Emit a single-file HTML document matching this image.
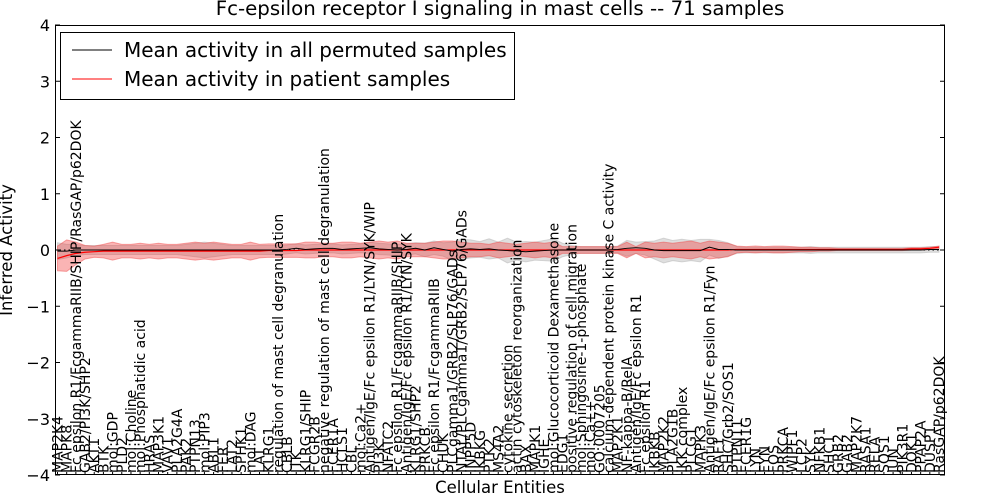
<!DOCTYPE html>
<html><head><meta charset="utf-8">
<style>
body{margin:0;background:#fff;}
svg{display:block;font-family:"DejaVu Sans","Liberation Sans",sans-serif;}
</style></head>
<body>
<svg id="chart" width="1000" height="500" viewBox="0 0 1000 500">
<rect x="0" y="0" width="1000" height="500" fill="#fff"/>
<text x="500" y="15" text-anchor="middle" font-size="19.8">Fc-epsilon receptor I signaling in mast cells -- 71 samples</text>
<g id="plot"></g>
<text x="500" y="493" text-anchor="middle" font-size="16.5">Cellular Entities</text>
<text transform="translate(12,250) rotate(-90)" text-anchor="middle" font-size="16.5">Inferred Activity</text>
<g>
<rect x="60.5" y="32.5" width="454" height="67" fill="#fff" stroke="#000"/>
<line x1="72" y1="50" x2="112" y2="50" stroke="#000"/>
<text x="124" y="57" font-size="20">Mean activity in all permuted samples</text>
<line x1="72" y1="79" x2="112" y2="79" stroke="#f00"/>
<text x="124" y="86" font-size="20">Mean activity in patient samples</text>
</g>
</svg>
<script>
const categories=["MAP2K4","MAPK8","Fc epsilon R1/FcgammaRIIB/SHIP/RasGAP/p62DOK","GAB2/PI3K/SHP2","AKT1","BTK","mol:GDP","PLD2","mol:Choline","mol:Phosphatidic acid","HRAS","MAP3K1","VAV1","PLA2G4A","PAK2","PTPN13","mol:PIP3","ABL1","FER","LAT2","SPHK1","mol:DAG","LAT","KLRG1","regulation of mast cell degranulation","CBLB","ITK","KLRG1/SHIP","FCGR2B","negative regulation of mast cell degranulation","FCER1A","HCLS1","CBL","mol:Ca2+","Antigen/IgE/Fc epsilon R1/LYN/SYK/WIP","PI3K","NFATC2","Fc epsilon R1/FcgammaRIIB/SHIP","Antigen/IgE/Fc epsilon R1/LYN/SYK","KLRG1/SHP2","PRKCB","Fc epsilon R1/FcgammaRIIB","CHUK","PLCgamma1/GRB2/SLP76/GADs","NTAL/PLCgamma1/GRB2/SLP76/GADs","INPP5D","IKBKG","PTK2","MS4A2","cytokine secretion","actin cytoskeleton reorganization","BAX","MAPK1","IGHE","mol:Glucocorticoid Dexamethasone","EDG1","positive regulation of cell migration","mol:Sphingosine-1-phosphate","mol:Ca++","GO:0007205","calcium-dependent protein kinase C activity","MAP2K1","NF-kappa-B/RelA","Antigen/IgE/Fc epsilon R1","Fc epsilon R1","IKBKB","MAP2K2","PLA2G1B","IKK complex","PLCG1","MAPK3","Antigen/IgE/Fc epsilon R1/Fyn","RAF1","SHC/Grb2/SOS1","PTPN11","FCER1G","LYN","FYN","FOS","PRKCA","WIPF1","LCP2","SYK","NFKB1","SHC1","GRB2","GAB2","MAP2K7","RASA1","RELA","SOS1","JUN","PIK3R1","DOK1","PPAP2A","DUSP1","RasGAP/p62DOK"];
const patientMean=[-0.15,-0.1,-0.06,-0.04,-0.03,-0.02,-0.02,-0.02,-0.02,-0.02,-0.02,-0.02,-0.02,-0.02,-0.02,-0.02,-0.02,-0.02,-0.02,-0.02,-0.02,-0.02,-0.02,-0.01,-0.01,-0.01,-0.01,0,0,0,0,0,0,0,0,0,0,0,0,0,0,0,0,0,0,0,0,0,0,0,0,0,0,0,0,0,0,0,0,0,0,0,0,0,0,0,0,0,0,0,0,0,0,0,0.01,0.01,0.01,0.01,0.01,0.01,0.01,0.01,0.01,0.01,0.01,0.01,0.01,0.01,0.01,0.01,0.01,0.01,0.01,0.02,0.02,0.03,0.05];
const patientSpread=[0.22,0.28,0.2,0.12,0.1,0.12,0.16,0.12,0.12,0.14,0.12,0.14,0.12,0.12,0.14,0.16,0.14,0.16,0.14,0.12,0.12,0.16,0.12,0.12,0.12,0.12,0.12,0.14,0.14,0.12,0.12,0.14,0.14,0.12,0.14,0.16,0.14,0.16,0.12,0.12,0.12,0.14,0.16,0.16,0.14,0.12,0.12,0.1,0.14,0.12,0.1,0.12,0.14,0.12,0.14,0.06,0.06,0.06,0.06,0.06,0.06,0.06,0.14,0.06,0.14,0.12,0.14,0.12,0.14,0.16,0.12,0.16,0.14,0.12,0.06,0.05,0.06,0.05,0.06,0.06,0.05,0.04,0.04,0.03,0.03,0.02,0.02,0.02,0.02,0.02,0.02,0.02,0.02,0.02,0.02,0.02,0.02];
const permutedMean=[-0.02,-0.02,0,0,0,0,0,0,0,0,0,0,0,0,0,0,0,0,0,0,0,0,0,0,0,0.01,0.03,0.01,0.02,0.03,0.03,0.01,0.02,0.03,0.04,0.02,0.01,0,0.01,0.03,0,0.04,0.01,-0.02,0.01,0.02,0.01,0.02,0,-0.01,-0.02,-0.03,-0.02,-0.01,0,0,0,0,0,0,0,0.01,0.03,0.04,0.03,0,-0.01,-0.01,-0.01,-0.01,-0.01,0.05,0.01,0.01,0,0,0,0,0,0,0,0,0,0,0,0,0,0,0,0,0,0,0,0,0,0.01,0.01];
const permutedSpread=[0.15,0.12,0.1,0.08,0.08,0.08,0.08,0.08,0.08,0.08,0.08,0.08,0.08,0.08,0.1,0.12,0.14,0.12,0.1,0.08,0.08,0.08,0.08,0.08,0.08,0.08,0.08,0.08,0.08,0.08,0.08,0.08,0.08,0.08,0.1,0.1,0.1,0.1,0.1,0.1,0.12,0.12,0.12,0.16,0.18,0.16,0.14,0.18,0.14,0.22,0.16,0.18,0.16,0.18,0.2,0.12,0.08,0.06,0.06,0.06,0.06,0.06,0.14,0.1,0.12,0.16,0.22,0.18,0.2,0.18,0.2,0.14,0.16,0.12,0.06,0.05,0.05,0.05,0.05,0.05,0.05,0.05,0.06,0.05,0.05,0.05,0.05,0.05,0.05,0.05,0.05,0.05,0.05,0.05,0.05,0.05,0.05];
const yTicks=[-4,-3,-2,-1,0,1,2,3,4];

const NS="http://www.w3.org/2000/svg";
const plot=document.getElementById('plot');
const L=55,R=945,T=25,B=475;
const xFirst=57.5,xLast=939;
function xs(i){return xFirst+i*(xLast-xFirst)/(categories.length-1);}
function ys(v){return B-(v+4)/8*(B-T);}
function mk(tag,attrs){const e=document.createElementNS(NS,tag);for(const k in attrs)e.setAttribute(k,attrs[k]);plot.appendChild(e);return e;}
function band(mean,spr){let up=[],dn=[];for(let i=0;i<mean.length;i++){up.push(xs(i)+','+ys(mean[i]+spr[i]));dn.unshift(xs(i)+','+ys(mean[i]-spr[i]));}return up.concat(dn).join(' ');}
function line(mean){return mean.map((v,i)=>xs(i)+','+ys(v)).join(' ');}

const gb=mk('polygon',{points:band(permutedMean,permutedSpread),fill:'rgba(140,140,140,0.28)',stroke:'rgba(180,180,180,0.5)'});


const rb=mk('polygon',{points:band(patientMean,patientSpread),fill:'rgba(240,40,40,0.35)',stroke:'rgba(240,80,80,0.5)'});


const zl=mk('line',{x1:L,x2:R,y1:ys(0),y2:ys(0),stroke:'#000','stroke-dasharray':'1.5,3'});


const rl=mk('polyline',{points:line(patientMean),fill:'none',stroke:'#f00','stroke-width':1.2});


const kl=mk('polyline',{points:line(permutedMean),fill:'none',stroke:'#000','stroke-width':1});



yTicks.forEach(v=>{
  const y=ys(v);
  const t1=mk('line',{x1:L,x2:L+5,y1:y,y2:y,stroke:'#000'});
  
  
  const t2=mk('line',{x1:R-5,x2:R,y1:y,y2:y,stroke:'#000'});
  
  
  const tx=mk('text',{x:L-5,y:y+6,'text-anchor':'end','font-size':16});
  tx.textContent=(v<0?'\u2212'+(-v):String(v));
  
  
});
categories.forEach((c,i)=>{
  const x=xs(i);
  const tk=mk('line',{x1:x,x2:x,y1:B,y2:B-3,stroke:'#000'});
  
  
  const t=mk('text',{transform:'translate('+(x+5)+','+(B-2)+') rotate(-90)','font-size':14});
  t.textContent=c;
  
  
});
const frame=mk('rect',{x:L+0.5,y:T+0.5,width:R-L-1,height:B-T-1,fill:'none',stroke:'#000'});


</script>
</body></html>
